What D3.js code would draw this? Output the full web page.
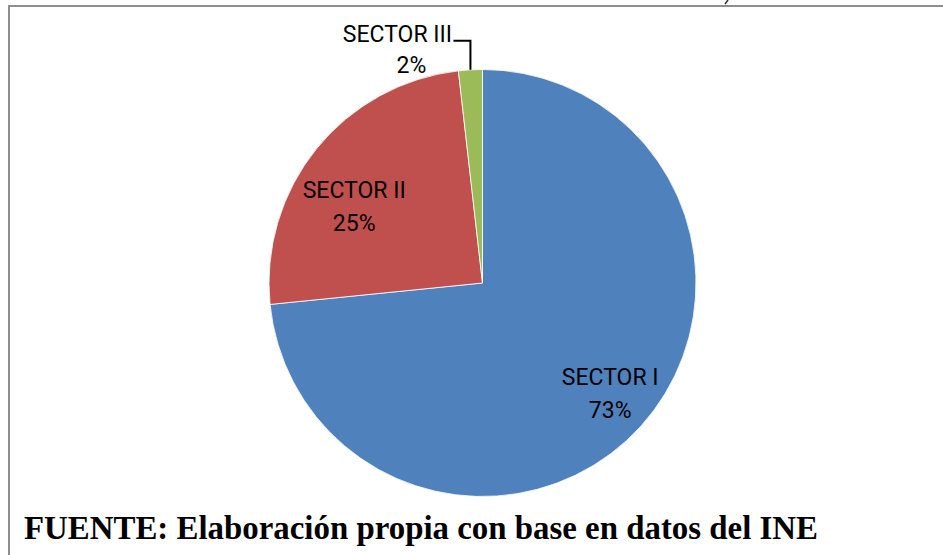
<!DOCTYPE html>
<html>
<head>
<meta charset="utf-8">
<script src="https://cdn.jsdelivr.net/npm/d3@7"></script>
<style>
  body { margin: 0; background: #fff; }
  svg { display: block; }
</style>
</head>
<body>
<div id="chart"></div>
<script>

// chart data
var sectors = ["SECTOR I", "SECTOR II", "SECTOR III"];
var shares = [73.4, 24.8, 1.8];
var sliceColors = ["#4f81bd", "#c0504d", "#9bbb59"];
var sourceNote = "FUENTE: Elaboración propia con base en datos del INE";

var width = 943, height = 555;
var cx = 482.5, cy = 283, radius = 213.5;

var svg = d3.select("#chart").append("svg")
    .attr("width", width)
    .attr("height", height);

// frame (only the top and left edges fall inside the picture)
svg.append("rect")
    .attr("x", 9).attr("y", 6)
    .attr("width", 1000).attr("height", 700)
    .attr("fill", "none")
    .attr("stroke", "#8e8e8e")
    .attr("stroke-width", 2);

// little stroke left over from the page above, cut by the edge
svg.append("line")
    .attr("x1", 728).attr("y1", 0)
    .attr("x2", 725).attr("y2", 4)
    .attr("stroke", "#333")
    .attr("stroke-width", 1.5);

var pie = d3.pie().sort(null).value(d => d.value);
var arcs = pie(sectors.map((s, i) => ({ name: s, value: shares[i], color: sliceColors[i] })));

var arc = d3.arc().innerRadius(0).outerRadius(radius);

var g = svg.append("g").attr("transform", "translate(" + cx + "," + cy + ")");

g.selectAll("path.slice")
    .data(arcs)
    .join("path")
    .attr("class", "slice")
    .attr("d", arc)
    .attr("fill", d => d.data.color)
    .attr("stroke", "#fff")
    .attr("stroke-width", 0.8);

var labelFont = "Roboto";
var labelSize = 23;
var lineGap = 33;

function addLabel(x, y, d) {
    var t = g.append("text")
        .attr("text-anchor", "middle")
        .style("font-family", labelFont)
        .style("font-size", labelSize + "px")
        .attr("fill", "#000");
    t.append("tspan").attr("x", x).attr("y", y).text(d.data.name);
    t.append("tspan").attr("x", x).attr("y", y + lineGap).text(Math.round(d.data.value) + "%");
}

// inside labels for the two large slices (radius factor, nudge)
var insideRadius = [0.8, 0.7];
var insideNudge = [[1, -13], [-12, 9]];
arcs.slice(0, 2).forEach(function (d, i) {
    var r = radius * insideRadius[i];
    var c = d3.arc().innerRadius(r).outerRadius(r).centroid(d);
    addLabel(c[0] + insideNudge[i][0], c[1] + insideNudge[i][1], d);
});

// outside label with leader line for the thin slice
var small = arcs[2];
var edge = d3.arc().innerRadius(radius).outerRadius(radius).centroid(small);
var elbowY = edge[1] - 29;
g.append("polyline")
    .attr("points", [[edge[0], edge[1]], [edge[0], elbowY], [edge[0] - 17, elbowY]].map(p => p.join(",")).join(" "))
    .attr("fill", "none")
    .attr("stroke", "#000")
    .attr("stroke-width", 2);

var st = g.append("text")
    .attr("text-anchor", "middle")
    .style("font-family", labelFont)
    .style("font-size", labelSize + "px")
    .attr("fill", "#000");
st.append("tspan").attr("x", edge[0] - 73).attr("y", elbowY + 1).text(small.data.name);
st.append("tspan").attr("x", edge[0] - 59).attr("y", elbowY + 32).text(Math.round(small.data.value) + "%");

// source note
svg.append("text")
    .attr("x", 24).attr("y", 539)
    .attr("textLength", 794)
    .attr("lengthAdjust", "spacingAndGlyphs")
    .style("font-family", "Liberation Serif")
    .style("font-weight", "bold")
    .style("font-size", "33px")
    .text(sourceNote);

</script>
</body>
</html>
